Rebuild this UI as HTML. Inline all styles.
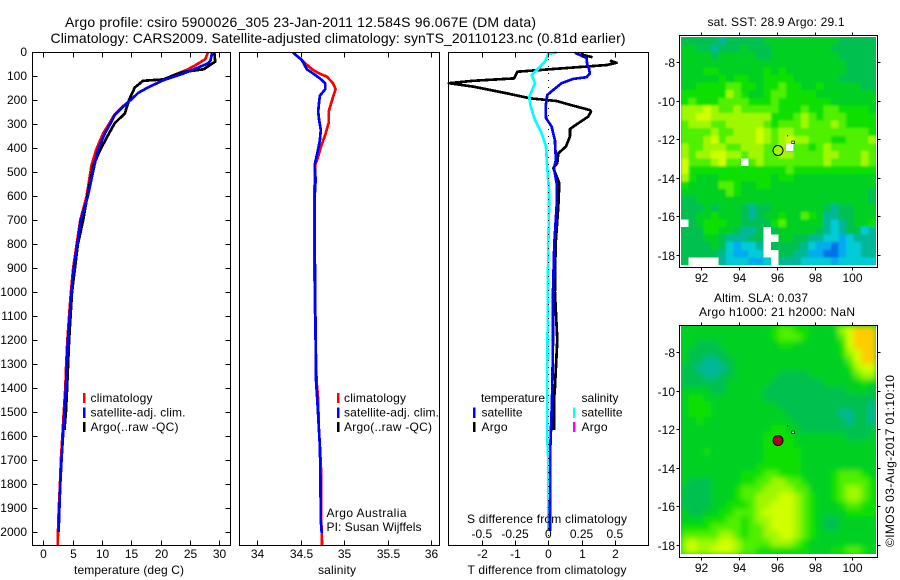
<!DOCTYPE html>
<html>
<head>
<meta charset="utf-8">
<title>Argo profile chart</title>
<style>
html,body{margin:0;padding:0;background:#fff;}
svg{display:block;}
text{font-family:"Liberation Sans",sans-serif;font-size:12px;fill:#000;}
.title{font-size:14px;}
.frame{fill:none;stroke:#000;stroke-width:1;shape-rendering:crispEdges;}
.tick{stroke:#000;stroke-width:1;shape-rendering:crispEdges;}
.series{fill:none;stroke-width:2.7;shape-rendering:crispEdges;stroke-linejoin:round;}
.cell{shape-rendering:crispEdges;}
</style>
</head>
<body>
<svg id="chart" xmlns="http://www.w3.org/2000/svg" width="900" height="580" viewBox="0 0 900 580">
<defs>
<filter id="sstBlur" x="-5%" y="-5%" width="110%" height="110%"><feGaussianBlur stdDeviation="1"/></filter>
<filter id="slaBlur" x="-5%" y="-5%" width="110%" height="110%"><feGaussianBlur stdDeviation="3"/></filter>
<clipPath id="sstClip"><rect x="681" y="37" width="195" height="228"/></clipPath>
<clipPath id="slaClip"><rect x="681" y="326" width="195" height="228"/></clipPath>
</defs>
<rect x="0" y="0" width="900" height="580" fill="#fff"/>
<text class="title" x="65" y="27" textLength="471">Argo profile: csiro 5900026_305 23-Jan-2011 12.584S 96.067E (DM data)</text>
<text class="title" x="50.5" y="43" textLength="575">Climatology: CARS2009. Satellite-adjusted climatology: synTS_20110123.nc (0.81d earlier)</text>

<g>
<g clip-path="url(#sstClip)">
<rect x="681" y="37" width="195" height="228" fill="#00c840"/>
<g id="sstCells" filter="url(#sstBlur)"></g>
<g id="sstGaps"></g>
</g>
<g clip-path="url(#slaClip)">
<rect x="681" y="326" width="195" height="228" fill="#00d020"/>
<g id="slaCells" filter="url(#slaBlur)"></g>
</g>
<g id="mapMarkers"></g>
</g>
<g id="seriesLayer"></g>
<g id="axisLayer"></g>

<line x1="548.5" y1="52" x2="548.5" y2="545" stroke="#000" stroke-width="1" stroke-dasharray="1 6"/>

<rect class="frame" x="32.5" y="52.5" width="198" height="493"/>
<rect class="frame" x="239.5" y="52.5" width="200" height="493"/>
<rect class="frame" x="448.5" y="52.5" width="200" height="493"/>
<rect class="frame" x="679.5" y="35.5" width="198" height="232"/>
<rect class="frame" x="679.5" y="325.5" width="198" height="232"/>

<text x="129" y="574" text-anchor="middle" textLength="110">temperature (deg C)</text>
<text x="337" y="574" text-anchor="middle" textLength="38">salinity</text>
<text x="547" y="574" text-anchor="middle" textLength="159">T difference from climatology</text>
<text x="547" y="523" text-anchor="middle" textLength="160">S difference from climatology</text>

<g>
<rect x="83" y="393" width="2.5" height="10" fill="#f00"/>
<rect x="83" y="407.5" width="2.5" height="10.5" fill="#00f"/>
<rect x="83" y="422" width="2.5" height="10" fill="#000"/>
<text x="90.5" y="402" textLength="62">climatology</text>
<text x="90.5" y="416.5" textLength="95">satellite-adj. clim.</text>
<text x="90.5" y="431" textLength="88">Argo(..raw -QC)</text>
</g>
<g>
<rect x="337" y="393" width="2.5" height="10" fill="#f00"/>
<rect x="337" y="407.5" width="2.5" height="10.5" fill="#00f"/>
<rect x="337" y="422" width="2.5" height="10" fill="#000"/>
<text x="344" y="402" textLength="62">climatology</text>
<text x="344" y="416.5" textLength="95">satellite-adj. clim.</text>
<text x="344" y="431" textLength="88">Argo(..raw -QC)</text>
<text x="326.5" y="517" textLength="80">Argo Australia</text>
<text x="326.5" y="531" textLength="95">PI: Susan Wijffels</text>
</g>
<g>
<text x="481" y="402" textLength="64">temperature</text>
<text x="581.5" y="402" textLength="37">salinity</text>
<rect x="473" y="407.5" width="2.5" height="10.5" fill="#00f"/>
<rect x="473" y="422" width="2.5" height="10" fill="#000"/>
<rect x="573" y="407.5" width="2.5" height="10.5" fill="#0ff"/>
<rect x="573" y="422" width="2.5" height="10" fill="#f0f"/>
<text x="481.5" y="416.5" textLength="41">satellite</text>
<text x="481.5" y="431" textLength="26">Argo</text>
<text x="581.5" y="416.5" textLength="41">satellite</text>
<text x="581.5" y="431" textLength="26">Argo</text>
</g>

<text x="707.5" y="26" textLength="137">sat. SST: 28.9 Argo: 29.1</text>
<text x="714" y="302" textLength="94">Altim. SLA: 0.037</text>
<text x="699" y="316" textLength="156">Argo h1000: 21 h2000: NaN</text>
<text transform="translate(894,547) rotate(-90)" textLength="172">©IMOS 03-Aug-2017 01:10:10</text>
</svg>

<script>
// ---------- tick labels ----------
const depthTicks = [0,100,200,300,400,500,600,700,800,900,1000,1100,1200,1300,1400,1500,1600,1700,1800,1900,2000];
const tempTicks = [0,5,10,15,20,25,30];
const salTicks = ["34","34.5","35","35.5","36"];
const tDiffTicks = [-2,-1,0,1,2];
const sDiffTicks = ["-0.5","-0.25","0","0.25","0.5"];
const lonTicks = [92,94,96,98,100];
const latTicks = [8,10,12,14,16,18];

// ---------- temperature profiles ----------
const tempClimDepth = [0,30,54,75,103,147,170,200,228,262,296,339,408,474,600,700,800,900,1000,1100,1200,1300,1400,1500,1600,1700,1800,1900,2000,2054];
const tempClimValues = [28.1,27.6,26,24.4,21.6,17.9,16.2,14.9,13.5,12.1,11.3,10.2,9,8.2,7.4,6.3,5.7,5.1,4.7,4.4,4.1,3.9,3.75,3.5,3.25,3,2.85,2.65,2.5,2.45];
const tempSatDepth = [0,35,47,68,92,117,147,170,200,228,262,296,339,408,474,600,700,800,900,1000,1100,1200,1300,1400,1500,1600,1700,1800,1900,2000];
const tempSatValues = [28.8,28.5,28.1,26.1,23.6,20.5,17.9,16.2,14.9,13.6,12.2,11.5,10.5,9.3,8.7,7.6,6.4,5.8,5.2,4.8,4.5,4.2,4,3.85,3.6,3.35,3.1,2.9,2.75,2.6];
const tempArgoDepth = [2,40,72,84,103,114,120,130,148,200,256,296,339,408,474,600,700,800,1000,1200,1400,1500,1575];
const tempArgoValues = [29.15,29.3,27.3,23.6,21.6,20.5,17,16.5,15.6,14.6,13.9,12.2,11.2,9.7,8.5,7.5,6.8,5.9,4.9,4.4,4.05,3.85,3.6];

// ---------- salinity profiles ----------
const salClimDepth = [3,33,47,72,89,103,130,155,200,249,296,346,396,436,471,600,800,1000,1200,1367,1450,1547,1645,1756,1950,2054];
const salClimValues = [34.41,34.51,34.55,34.63,34.71,34.8,34.87,34.9,34.86,34.82,34.82,34.78,34.73,34.7,34.665,34.655,34.655,34.66,34.67,34.68,34.7,34.705,34.72,34.735,34.735,34.745];
const salSatDepth = [3,33,72,89,110,130,155,182,208,249,283,325,367,422,471,533,600,800,1000,1200,1367,1450,1547,1645,1756,1950,2004];
const salSatValues = [34.41,34.51,34.57,34.64,34.72,34.78,34.78,34.72,34.71,34.7,34.71,34.73,34.72,34.69,34.66,34.67,34.66,34.66,34.665,34.67,34.675,34.69,34.705,34.72,34.725,34.73,34.74];

// ---------- differences (null = gap in the profile) ----------
const diffArgoTDepth = [3,12,22,30,36,45,54,75,82,110,120,130,144,172,193,204,220,242,249,269,297,321,353,394,422,463,484,546,644,800,1000,1200,1400,1450,1575];
const diffArgoTValues = [1,1.05,1.33,null,1.86,2.05,1.76,-0.25,-0.93,-1.03,-2.26,-2.99,-2.26,-1.25,-0.55,0.25,0.65,1.25,1.28,1.2,0.9,0.65,0.65,0.53,0.3,0.27,0.15,0.33,0.3,0.22,0.2,0.27,0.2,0.17,0.17];
const diffSatTDepth = [3,25,50,68,89,105,112,130,158,179,228,275,311,367,450,484,546,644,800,1000,1200,1400,1500,1650,1996];
const diffSatTValues = [0.8,1.15,1.17,1.22,1.25,1.15,0.75,0.4,0.15,-0.03,-0.08,-0.07,0.1,0.2,0.23,0.17,0.25,0.25,0.18,0.14,0.14,0.12,0.1,0.06,0.05];
const diffSatSDepth = [3,8,40,75,96,130,186,228,283,338,394,478,575,644,800,1000,1400,1600,1700,1996];
const diffSatSValues = [0.063,0,-0.025,-0.087,-0.125,-0.1,-0.143,-0.132,-0.1,-0.05,-0.017,-0.008,0.005,0.005,0,-0.003,-0.008,-0.008,0,0];

// ---------- map fields (levels on the shared colour scale, null = no data) ----------
const n = null;
const sstField = [
[4,4,4,4,4,3,4,4,4,4,4,5,5,5,5,5,5,5,5,5,5,4,4,4,4,4],
[5,5,4,4,3,4,4,4,5,4,4,4,5,5,5,5,5,5,5,5,4,4,4,4,4,4],
[5,5,5,5,4,5,5,5,5,5,4,4,5,5,5,5,5,5,5,5,5,4,4,4,4,4],
[5,5,5,5,5,5,5,5,5,5,5,5,5,5,5,5,5,5,5,5,5,5,4,4,4,4],
[5,5,5,6,6,5,5,5,5,5,5,6,5,6,5,5,5,5,5,5,5,5,4,4,4,4],
[5,5,5,5,5,6,5,6,6,5,5,6,6,6,6,5,5,5,5,5,5,4,4,4,4,4],
[5,5,6,6,6,6,7,7,6,6,5,6,6,7,6,6,5,5,6,5,5,5,5,5,4,4],
[6,6,6,6,6,6,8,7,6,5,5,6,7,7,6,6,6,6,5,5,5,5,5,5,5,5],
[6,7,6,6,6,7,7,7,7,6,6,6,7,6,6,6,6,6,6,6,5,5,5,5,5,5],
[8,8,8,9,8,7,7,8,7,7,7,7,7,6,6,6,7,6,6,7,7,6,6,6,6,5],
[8,8,9,9,8,8,8,8,8,8,8,8,6,6,6,7,8,7,6,7,7,7,6,6,6,6],
[7,8,8,8,7,7,8,8,8,8,8,7,6,7,7,7,8,7,7,7,8,7,6,6,6,6],
[7,7,7,7,8,7,7,8,8,8,9,8,7,8,8,7,7,7,7,7,7,7,7,7,7,6],
[7,7,7,8,9,7,8,8,8,8,9,8,7,8,9,8,8,7,7,7,6,6,7,7,7,8],
[8,7,7,8,8,8,7,7,8,8,8,7,7,8,n,7,7,6,7,8,7,7,7,7,7,7],
[8,7,8,8,9,9,8,8,7,8,8,7,7,8,8,7,7,7,7,8,8,7,7,7,8,7],
[9,7,7,7,8,9,7,7,n,7,8,7,7,7,7,7,7,7,7,8,7,7,7,7,8,7],
[9,6,6,6,6,6,6,6,6,6,6,6,6,6,7,6,6,6,6,6,6,6,6,6,6,6],
[8,6,5,5,5,6,6,6,6,6,6,6,5,6,6,5,5,5,5,5,5,5,5,5,5,5],
[6,5,5,5,5,7,7,6,5,5,6,6,5,5,5,5,5,5,5,5,5,5,5,5,5,5],
[5,5,5,5,5,5,7,6,5,5,5,5,5,5,5,5,5,5,5,5,5,5,5,5,5,4],
[4,4,5,5,5,5,5,5,5,5,5,5,5,5,5,5,5,5,5,5,5,5,5,5,5,4],
[4,4,4,5,4,5,5,5,4,3,4,4,5,5,5,5,5,5,5,4,3,4,4,5,5,5],
[4,4,5,5,6,5,5,5,4,3,4,5,5,6,5,5,7,6,5,3,3,4,4,5,5,5],
[n,4,5,6,6,6,5,5,4,4,4,4,6,7,5,5,5,5,5,3,2,3,4,5,5,6],
[4,4,4,6,6,5,5,4,3,3,4,n,4,5,5,5,5,5,4,3,2,3,4,4,2,3],
[4,4,4,5,5,4,3,3,3,4,4,n,n,5,5,4,4,3,3,2,2,1,2,3,3,3],
[4,4,4,4,5,4,2,1,2,2,3,n,4,4,4,4,3,2,1,1,0,1,2,2,3,3],
[4,4,4,4,4,3,2,1,1,2,2,n,n,4,4,3,3,1,1,0,0,1,2,2,3,3],
[4,n,n,n,n,3,2,2,2,1,1,2,n,3,3,3,2,2,2,2,1,2,2,2,2,2]
];
const slaField = [
[5,5,5,5,5,5,5,5,5,5,5,5,6,7,7,6,6,5,5,5,5,8,9,10,10,10],
[5,5,5,5,5,5,5,5,5,5,5,5,6,7,7,7,6,5,5,5,5,7,9,10,10,10],
[5,5,4,4,4,5,5,5,5,5,5,5,5,6,6,5,5,5,5,5,5,6,9,10,10,10],
[5,4,4,4,4,4,5,5,5,5,5,5,5,5,5,5,5,5,5,5,5,6,8,9,10,10],
[5,4,4,3,3,4,4,5,5,5,5,5,5,5,5,5,5,5,5,5,5,5,7,9,10,10],
[4,4,3,3,3,3,4,5,5,5,5,5,5,5,5,5,5,5,5,5,5,5,6,8,9,9],
[4,4,4,3,3,4,4,5,5,5,5,5,5,4,4,4,4,5,5,5,5,5,5,7,8,8],
[4,4,4,4,4,4,5,5,5,5,5,5,4,4,4,4,4,4,4,5,5,5,5,5,6,5],
[5,5,5,5,4,4,5,5,5,5,5,4,4,4,4,4,4,4,4,4,4,4,5,5,5,4],
[5,6,6,5,5,5,5,5,5,5,5,4,4,4,4,4,4,4,4,4,4,4,4,4,4,4],
[5,6,6,6,5,5,5,5,5,5,5,5,5,4,4,4,4,4,4,4,4,4,4,4,4,3],
[5,6,6,6,5,5,5,5,5,5,5,5,5,5,4,4,4,4,4,4,4,3,3,4,4,3],
[5,5,6,5,5,5,5,5,5,5,5,5,5,5,5,4,4,4,4,4,4,4,3,4,4,3],
[5,5,5,5,5,5,5,5,5,5,5,5,6,6,5,5,4,4,4,4,4,4,4,4,4,4],
[5,5,5,5,5,5,5,5,5,5,5,6,6,6,6,5,5,5,5,5,5,5,4,4,4,5],
[5,5,5,5,5,5,5,5,5,5,5,6,6,6,6,5,5,5,5,5,5,5,5,5,5,5],
[5,5,5,6,5,5,5,5,5,5,5,6,6,6,6,6,5,5,5,5,5,5,5,5,5,5],
[5,5,5,5,5,5,5,5,5,5,5,6,6,6,6,6,5,5,5,5,5,5,5,5,5,5],
[5,5,5,5,5,5,5,5,5,5,6,6,6,6,6,6,5,5,5,5,5,5,5,5,5,5],
[5,5,5,5,5,5,5,5,6,6,6,7,7,6,6,6,5,5,5,5,6,7,7,7,6,5],
[5,4,4,4,5,5,5,5,6,6,7,7,8,8,7,7,6,5,5,5,6,7,7,7,7,6],
[4,4,4,4,5,5,5,6,7,7,7,8,8,8,8,7,7,5,5,5,6,7,8,8,7,6],
[4,4,4,4,5,5,5,6,7,7,8,8,8,9,9,8,7,6,5,5,6,7,8,8,7,6],
[4,4,4,4,5,5,6,6,6,7,8,8,9,9,9,8,7,6,5,5,5,6,7,7,6,6],
[5,4,4,5,5,6,6,7,7,7,8,9,9,9,9,8,7,6,5,5,5,5,6,6,6,6],
[5,5,5,6,6,6,7,7,6,7,8,8,9,9,9,8,7,6,5,4,4,5,5,5,5,5],
[6,6,6,6,7,7,7,7,6,7,7,8,9,9,9,8,7,6,5,4,4,5,5,5,5,5],
[7,7,7,7,7,8,8,7,6,7,7,8,8,9,9,8,7,6,5,5,5,5,5,5,5,5],
[8,9,8,8,8,9,9,8,7,7,7,7,8,8,8,7,6,5,5,5,5,5,5,5,5,5],
[8,9,8,8,9,9,9,8,7,7,6,6,6,6,6,6,6,5,5,5,6,6,7,7,6,5]
];
const fieldColours = ["#0070e8","#00acf0","#00ccd8","#00b898","#00c050","#00d020","#10e000","#50f000","#a0f800","#d0ff00","#ffcc00"];
const profileLon = [96.067];
const profileLat = [12.584];
const islandLon = [96.6,96.85];
const islandLat = [11.85,12.15];

// ---------- axis functions ----------
const yDepth = d => 52 + d * 0.24;
const xTemp = t => 43.3 + t * 5.867;
const xSal = s => 257.3 + (s - 34) * 87;
const xTDiff = t => 548.3 + t * 33.25;
const xSDiff = s => 548.3 + s * 133;
const xLon = lon => 701.3 + (lon - 92) * 18.87;
const ySst = lat => 62 + (lat - 8) * 19.3;
const ySla = lat => 352 + (lat - 8) * 19.3;

const NS = "http://www.w3.org/2000/svg";
const seriesLayer = document.getElementById("seriesLayer");
const axisLayer = document.getElementById("axisLayer");
const markerLayer = document.getElementById("mapMarkers");

function tickLine(x1, y1, x2, y2) {
  const el = document.createElementNS(NS, "line");
  el.setAttribute("class", "tick");
  el.setAttribute("x1", x1);
  el.setAttribute("y1", y1);
  el.setAttribute("x2", x2);
  el.setAttribute("y2", y2);
  
  
  axisLayer.appendChild(el);
}
function tickText(label, x, y, anchor) {
  const el = document.createElementNS(NS, "text");
  el.setAttribute("x", x);
  el.setAttribute("y", y);
  el.setAttribute("text-anchor", anchor);
  el.textContent = label;
  
  
  axisLayer.appendChild(el);
}
function drawSeries(name, colour, depths, values, xFn) {
  let d = "";
  let pen = false;
  depths.forEach((dep, i) => {
    if (values[i] === null) { pen = false; return; }
    d += (pen ? "L" : "M") + xFn(values[i]).toFixed(1) + " " + yDepth(dep).toFixed(1) + " ";
    pen = true;
  });
  const el = document.createElementNS(NS, "path");
  el.setAttribute("class", "series");
  el.setAttribute("stroke", colour);
  el.setAttribute("d", d);
  
  
  seriesLayer.appendChild(el);
}
function drawField(field, x0, y0, w, h, name, cellLayer, gapLayer) {
  const cw = w / field[0].length;
  const ch = h / field.length;
  field.forEach((row, r) => row.forEach((v, c) => {
    const el = document.createElementNS(NS, "rect");
    el.setAttribute("class", "cell");
    el.setAttribute("x", (x0 + c * cw).toFixed(2));
    el.setAttribute("y", (y0 + r * ch).toFixed(2));
    el.setAttribute("width", (cw + (v === null ? 0 : 0.5)).toFixed(2));
    el.setAttribute("height", (ch + (v === null ? 0 : 0.5)).toFixed(2));
    el.setAttribute("fill", v === null ? "#fff" : fieldColours[Math.max(0, Math.min(fieldColours.length - 1, Math.round(v)))]);
    
    
    (v === null ? gapLayer : cellLayer).appendChild(el);
  }));
}
function drawMarker(yFn, fill, name) {
  const el = document.createElementNS(NS, "circle");
  el.setAttribute("cx", xLon(profileLon[0]).toFixed(1));
  el.setAttribute("cy", yFn(profileLat[0]).toFixed(1));
  el.setAttribute("r", "5");
  el.setAttribute("fill", fill);
  el.setAttribute("stroke", "#000");
  
  
  markerLayer.appendChild(el);
  islandLon.forEach((lon, i) => {
    const isl = document.createElementNS(NS, "rect");
    isl.setAttribute("x", (xLon(lon) - 1).toFixed(1));
    isl.setAttribute("y", (yFn(islandLat[i]) - 1).toFixed(1));
    isl.setAttribute("width", i ? "2.5" : "1");
    isl.setAttribute("height", i ? "2.5" : "1");
    isl.setAttribute("fill", i ? "#fff" : "#000");
    isl.setAttribute("stroke", i ? "#000" : "none");
    isl.setAttribute("stroke-width", "0.7");
    
    
    markerLayer.appendChild(isl);
  });
}

// ---------- depth axis ----------
depthTicks.forEach(d => {
  const y = Math.round(yDepth(d)) + 0.5;
  tickLine(32.5, y, 37.5, y);
  tickLine(225.5, y, 230.5, y);
  tickText(String(d), 27, y + 3.7, "end");
});

// ---------- x axes ----------
tempTicks.forEach(t => {
  const x = Math.round(xTemp(t)) + 0.5;
  tickLine(x, 52.5, x, 57.5);
  tickLine(x, 540.5, x, 545.5);
  tickText(String(t), x, 558, "middle");
});
salTicks.forEach(s => {
  const x = Math.round(xSal(parseFloat(s))) + 0.5;
  tickLine(x, 52.5, x, 57.5);
  tickLine(x, 540.5, x, 545.5);
  tickText(s, x, 558, "middle");
});
tDiffTicks.forEach(t => {
  const x = Math.round(xTDiff(t)) + 0.5;
  tickLine(x, 52.5, x, 57.5);
  tickLine(x, 540.5, x, 545.5);
  tickText(String(t), x, 558, "middle");
});
sDiffTicks.forEach(s => {
  tickText(s, xSDiff(parseFloat(s)), 538, "middle");
});

// ---------- series ----------
drawSeries("temperature-climatology-line", "#f00", tempClimDepth, tempClimValues, xTemp);
drawSeries("temperature-argo-line", "#000", tempArgoDepth, tempArgoValues, xTemp);
drawSeries("temperature-satellite-line", "#00f", tempSatDepth, tempSatValues, xTemp);
drawSeries("salinity-climatology-line", "#f00", salClimDepth, salClimValues, xSal);
drawSeries("salinity-satellite-line", "#00f", salSatDepth, salSatValues, xSal);
drawSeries("t-difference-argo-line", "#000", diffArgoTDepth, diffArgoTValues, xTDiff);
drawSeries("s-difference-satellite-line", "#0ff", diffSatSDepth, diffSatSValues, xSDiff);
drawSeries("t-difference-satellite-line", "#00f", diffSatTDepth, diffSatTValues, xTDiff);

// ---------- maps ----------
drawField(sstField, 681, 37, 195, 228, "sst-cell", document.getElementById("sstCells"), document.getElementById("sstGaps"));
drawField(slaField, 681, 326, 195, 228, "sla-cell", document.getElementById("slaCells"), document.getElementById("slaCells"));
drawMarker(ySst, "#a0f800", "sst-profile-marker");
drawMarker(ySla, "#b00020", "sla-profile-marker");

[[ySst, 35.5, 267.5, 282], [ySla, 325.5, 557.5, 572]].forEach(cfg => {
  const yFn = cfg[0], top = cfg[1], bottom = cfg[2], labelY = cfg[3];
  lonTicks.forEach(lon => {
    const x = Math.round(xLon(lon)) + 0.5;
    tickLine(x, top - 3, x, top);
    tickLine(x, bottom, x, bottom + 3);
    tickText(String(lon), x, labelY, "middle");
  });
  latTicks.forEach(lat => {
    const y = Math.round(yFn(lat)) + 0.5;
    tickLine(676.5, y, 679.5, y);
    tickLine(877.5, y, 880.5, y);
    tickText("-" + lat, 675, y + 4.5, "end");
  });
});
</script>
</body>
</html>
